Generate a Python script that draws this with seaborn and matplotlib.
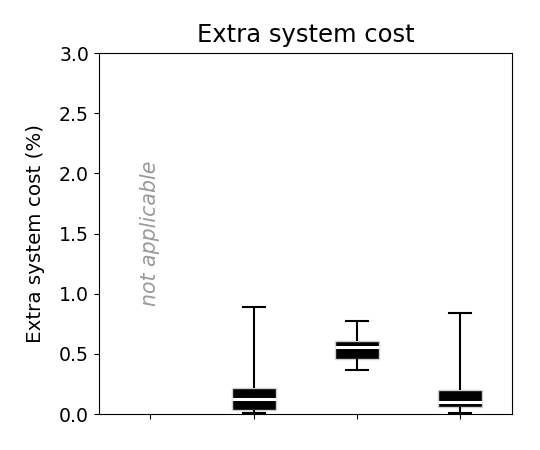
import pandas as pd
import numpy as np
import seaborn as sns
import matplotlib.pyplot as plt

# scenarios (no labels shown on the x axis)
cats = ['A', 'B', 'C', 'D']
# five-number summaries per scenario: min, q1, median, q3, max
b_vals = [0.005, 0.033, 0.125, 0.215, 0.89]
c_vals = [0.366, 0.455, 0.555, 0.61, 0.773]
d_vals = [0.006, 0.061, 0.10, 0.20, 0.842]

df = pd.DataFrame({
    'scenario': ['B'] * 5 + ['C'] * 5 + ['D'] * 5,
    'cost': b_vals + c_vals + d_vals,
})

fig = plt.figure(figsize=(5.4, 4.5), dpi=100)
ax = fig.add_axes([0.183, 0.08, 0.765, 0.802])

sns.boxplot(data=df, x='scenario', y='cost', order=cats, ax=ax,
            color='black', linecolor='black', whis=(0, 100), width=0.43,
            linewidth=1.5, fliersize=0,
            boxprops=dict(facecolor='black', edgecolor='#d0d0d0', linewidth=1),
            medianprops=dict(color='white', linewidth=2.2))

ax.text(0, 1.5, 'not applicable', rotation=90, style='italic', color='#999999',
        ha='center', va='center', fontsize=14.8)

ax.set_ylim(0, 3.0)
ax.set_yticks(np.arange(0, 3.01, 0.5))
ax.set_xticklabels([])
ax.set_xlabel('')
ax.set_ylabel('Extra system cost (%)', fontsize=14.3, labelpad=10)
ax.set_title('Extra system cost', fontsize=17.5, pad=8)
ax.tick_params(labelsize=13.6)

fig.savefig('out.png')
